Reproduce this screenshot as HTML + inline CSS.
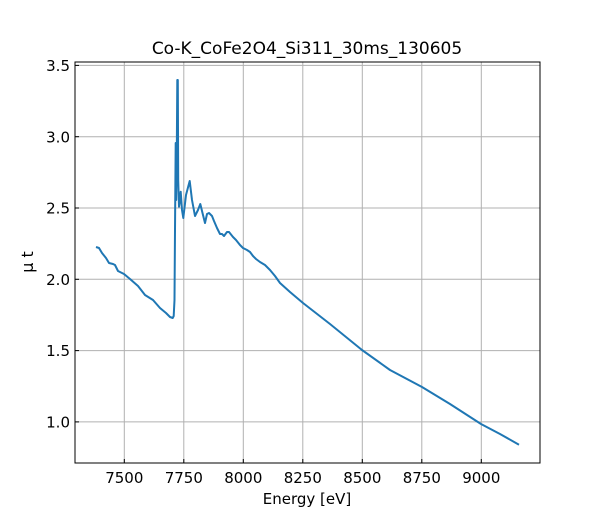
<!DOCTYPE html>
<html><head><style>body{margin:0;background:#fff}svg{display:block}</style></head>
<body>
<svg width="600" height="520" xmlns="http://www.w3.org/2000/svg" font-family="'DejaVu Sans', 'Liberation Sans', sans-serif">
<rect width="600" height="520" fill="#fff"/>
<g stroke="#b0b0b0" stroke-width="1">
<line x1="124.3" y1="62" x2="124.3" y2="463"/>
<line x1="183.8" y1="62" x2="183.8" y2="463"/>
<line x1="243.3" y1="62" x2="243.3" y2="463"/>
<line x1="302.8" y1="62" x2="302.8" y2="463"/>
<line x1="362.3" y1="62" x2="362.3" y2="463"/>
<line x1="421.8" y1="62" x2="421.8" y2="463"/>
<line x1="481.3" y1="62" x2="481.3" y2="463"/>
<line x1="75" y1="65.4" x2="540" y2="65.4"/>
<line x1="75" y1="136.7" x2="540" y2="136.7"/>
<line x1="75" y1="208" x2="540" y2="208"/>
<line x1="75" y1="279.3" x2="540" y2="279.3"/>
<line x1="75" y1="350.6" x2="540" y2="350.6"/>
<line x1="75" y1="421.9" x2="540" y2="421.9"/>
</g>
<polyline fill="none" stroke="#1f77b4" stroke-width="2" stroke-linejoin="round" points="96,247 99,248 102,253 106,258 109,263 113,264 115,265 118,271 124,274 130,279 138,286 145,295 153,300 160,308 166,313 170,317 172.7,318 173.7,316 174.5,300 175,230 175.7,143 176.2,200 176.8,150 177.3,80 177.8,80 178.2,180 179,206.7 180,200 180.7,191.7 182,210 183.3,218 186,195 189.7,181 192,200 195,216 198,210 200.3,204 203,215 205,223 207,214 209,213 212,216 214,221 217,228 220,234 222,234 224,236 227,232 229,232 233,237 236,240 240,245 243,248 247,250 250,252 253,256 256,259 260,262 265,265 270,270 275,276 280,283 290,292 303,303 330,324 362,350 390,370 422,387 450,404 481,424 500,434 519,444.7"/>
<rect x="75" y="62" width="465" height="401" fill="none" stroke="#000" stroke-width="1"/>
<g stroke="#000" stroke-width="1">
<line x1="124.3" y1="463" x2="124.3" y2="459"/><line x1="183.8" y1="463" x2="183.8" y2="459"/><line x1="243.3" y1="463" x2="243.3" y2="459"/><line x1="302.8" y1="463" x2="302.8" y2="459"/><line x1="362.3" y1="463" x2="362.3" y2="459"/><line x1="421.8" y1="463" x2="421.8" y2="459"/><line x1="481.3" y1="463" x2="481.3" y2="459"/>
<line x1="75" y1="65.4" x2="79" y2="65.4"/><line x1="75" y1="136.7" x2="79" y2="136.7"/><line x1="75" y1="208" x2="79" y2="208"/><line x1="75" y1="279.3" x2="79" y2="279.3"/><line x1="75" y1="350.6" x2="79" y2="350.6"/><line x1="75" y1="421.9" x2="79" y2="421.9"/>
</g>
<g font-size="15" text-anchor="middle" fill="#000">
<text x="124.3" y="483">7500</text><text x="183.8" y="483">7750</text><text x="243.3" y="483">8000</text><text x="302.8" y="483">8250</text><text x="362.3" y="483">8500</text><text x="421.8" y="483">8750</text><text x="481.3" y="483">9000</text>
</g>
<g font-size="15" text-anchor="end" fill="#000">
<text x="70" y="71">3.5</text><text x="70" y="142.3">3.0</text><text x="70" y="213.5">2.5</text><text x="70" y="284.9">2.0</text><text x="70" y="356.2">1.5</text><text x="70" y="427.5">1.0</text>
</g>
<text x="307" y="504" font-size="15" text-anchor="middle">Energy [eV]</text>
<text transform="translate(33,262) rotate(-90)" font-size="16" text-anchor="middle">μ t</text>
<text x="307" y="54" font-size="17" text-anchor="middle">Co-K_CoFe2O4_Si311_30ms_130605</text>
</svg>
</body></html>
